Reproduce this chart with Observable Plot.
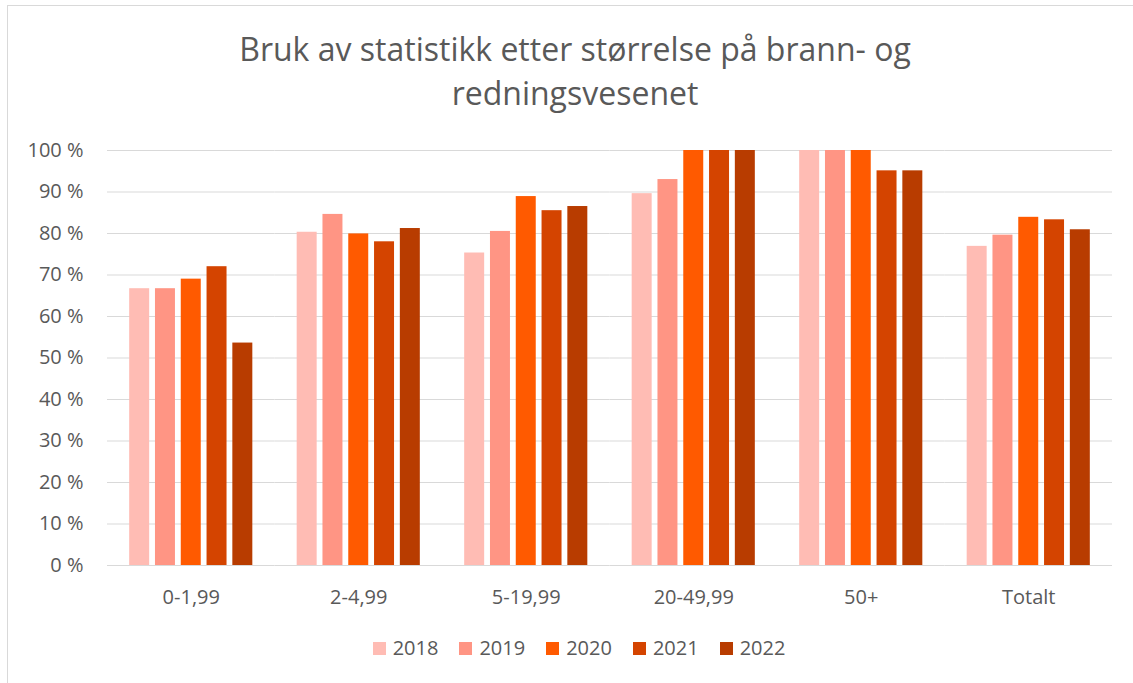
<!DOCTYPE html>
<html><head><meta charset="utf-8">
<script src="https://cdn.jsdelivr.net/npm/d3@7"></script>
<script src="https://cdn.jsdelivr.net/npm/@observablehq/plot@0.6"></script>
<style>
body{margin:0;background:#fff;overflow:hidden;width:1133px;height:683px;position:relative;font-family:"Open Sans",sans-serif;}
#frame{position:absolute;left:7px;top:5px;width:1200px;height:800px;border:1px solid #d9d9d9;box-sizing:border-box;}
#title{position:absolute;left:0;width:1150px;top:27px;text-align:center;font-size:32px;line-height:44px;color:#595959;}
#chart{position:absolute;left:0;top:130px;}
#legend{position:absolute;top:636px;left:0;width:1158px;display:flex;justify-content:center;gap:21px;font-size:20px;color:#595959;line-height:24px;}
.item{display:flex;align-items:center;gap:7px;}
.sw{width:13px;height:13px;display:inline-block;}
</style></head>
<body>
<div id="frame"></div>
<div id="title">Bruk av statistikk etter størrelse på brann- og<br>redningsvesenet</div>
<div id="chart"></div>
<div id="legend"></div>
<script>
const categories = ["0-1,99","2-4,99","5-19,99","20-49,99","50+","Totalt"];
const years = ["2018","2019","2020","2021","2022"];
const v2018 = [66.7, 80.3, 75.3, 89.6, 100, 76.9];
const v2019 = [66.7, 84.6, 80.5, 93.0, 100, 79.6];
const v2020 = [69.0, 79.9, 88.9, 100, 100, 83.9];
const v2021 = [72.0, 78.0, 85.5, 100, 95.1, 83.3];
const v2022 = [53.6, 81.2, 86.5, 100, 95.1, 80.9];
const yTicks = [0,10,20,30,40,50,60,70,80,90,100];
const colors = ["#FFBCB4","#FF9584","#FF5A00","#D44400","#B83C00"];

const series = [v2018, v2019, v2020, v2021, v2022];
const data = [];
categories.forEach((c, i) => years.forEach((yr, j) => data.push({cat: c, year: yr, value: series[j][i]})));

const chart = Plot.plot({
  width: 1133,
  height: 485,
  marginLeft: 107,
  marginRight: 21,
  marginTop: 20,
  marginBottom: 50,
  style: {fontFamily: "Open Sans, sans-serif", fontSize: "20px", color: "#595959", background: "transparent"},
  fx: {domain: categories, padding: 0, round: false, label: null, axis: "bottom", tickSize: 0, tickPadding: 24},
  x: {domain: years, axis: null, round: false, paddingInner: 0.225, paddingOuter: 0.86},
  y: {domain: [0, 100], ticks: yTicks, tickFormat: d => d + " %", label: null, tickSize: 0, tickPadding: 24},
  color: {domain: years, range: colors},
  marks: [
    Plot.ruleY(yTicks, {stroke: "#d9d9d9", strokeWidth: 1}),
    Plot.barY(data, {fx: "cat", x: "year", y: "value", fill: "year"})
  ]
});
document.getElementById("chart").appendChild(chart);

const legend = document.getElementById("legend");
years.forEach((yr, j) => {
  const it = document.createElement("div");
  it.className = "item";
  const sw = document.createElement("span");
  sw.className = "sw";
  sw.style.background = colors[j];
  const t = document.createElement("span");
  t.textContent = yr;
  it.appendChild(sw); it.appendChild(t);
  legend.appendChild(it);
});
</script>
</body></html>
